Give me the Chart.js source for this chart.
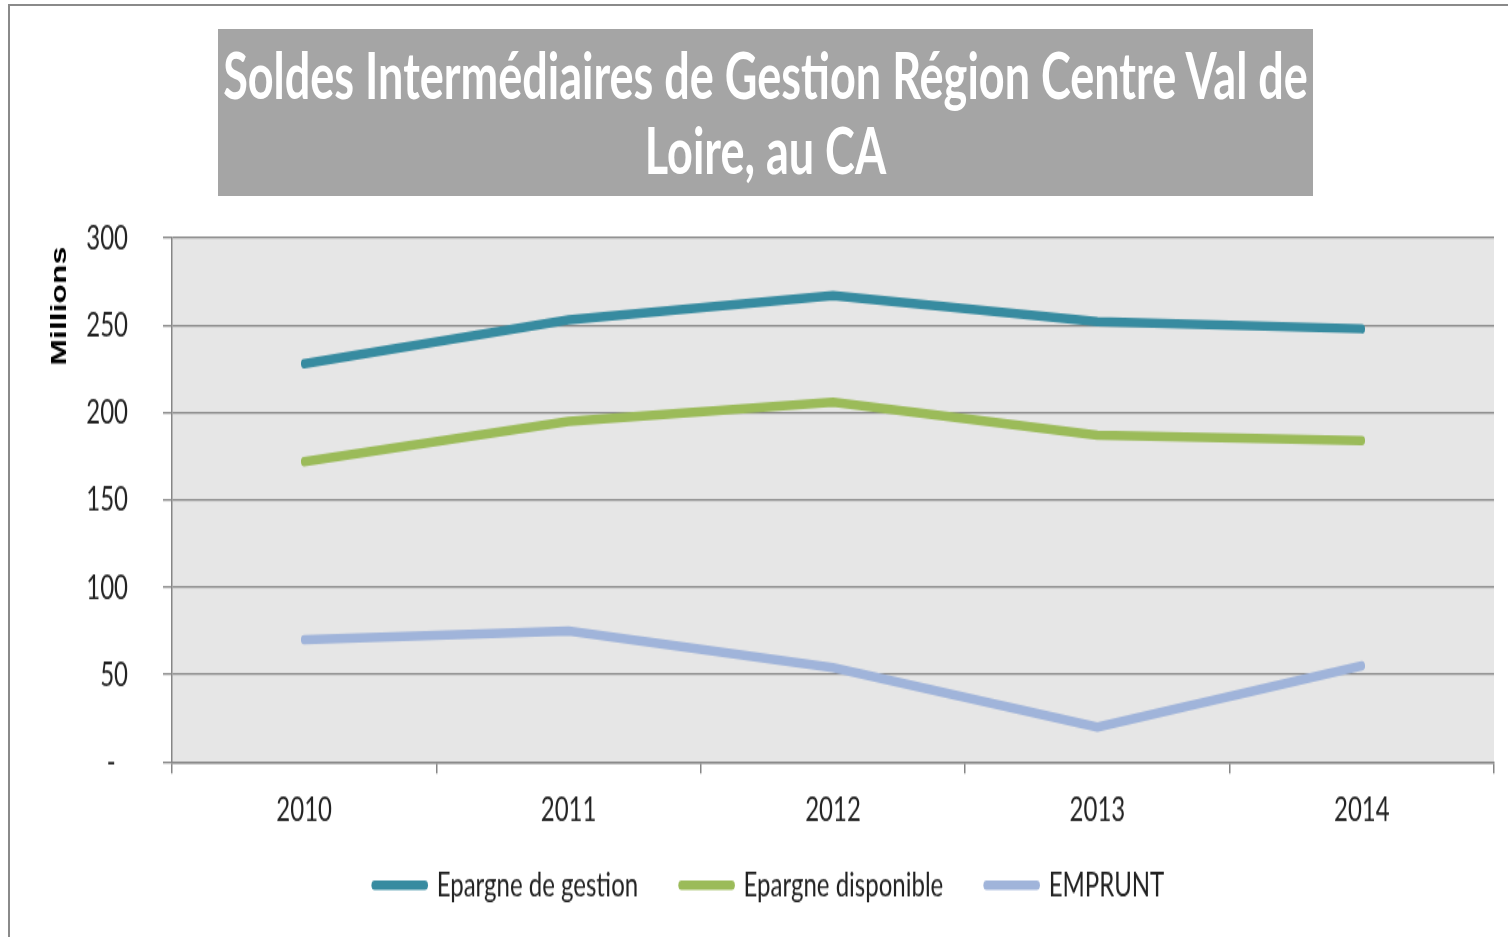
<!DOCTYPE html>
<html lang="fr">
<head>
    <meta charset="UTF-8">
    <title>Soldes Intermédiaires de Gestion Région Centre Val de Loire</title>
    <script src="https://cdn.jsdelivr.net/npm/chart.js"></script>
    <style>
        html, body {
            margin: 0;
            padding: 0;
            background: #fff;
            overflow: hidden;
        }
        .frame {
            position: absolute;
            left: 8px;
            top: 4px;
            width: 1510px;
            height: 950px;
            border-top: 2px solid #8a8a8a;
            border-left: 2px solid #8a8a8a;
        }
        /* the original picture is stretched vertically, so the whole chart is too */
        .wrap {
            position: absolute;
            left: 0;
            top: 0;
            width: 1508px;
            height: 646px;
            transform: scaleY(1.4505);
            transform-origin: 0 0;
        }
        .title-box {
            position: absolute;
            left: 218px;
            top: 20px;
            width: 1095px;
            height: 115px;
            box-sizing: border-box;
            padding-top: 5px;
            background: #a5a5a5;
            color: #fff;
            font-family: Lato, "Open Sans", sans-serif;
            font-weight: 700;
            font-size: 45px;
            line-height: 52px;
            text-align: center;
            white-space: nowrap;
        }
    </style>
</head>
<body>
    <div class="frame"></div>
    <div class="wrap">
        <canvas id="sigChart"></canvas>
        <div class="title-box">Soldes Intermédiaires de Gestion Région Centre Val de<br>Loire, au CA</div>
    </div>

    <script>
        // données (millions d'euros)
        const years = ['2010', '2011', '2012', '2013', '2014'];
        const epargneGestion = [228, 253, 267, 252, 248];
        const epargneDisponible = [172, 195, 206, 187, 184];
        const emprunt = [70, 75, 54, 20, 55];
        const yTicks = [0, 50, 100, 150, 200, 250, 300];

        const tickColor = '#222';
        const lineGrey = '#868686';

        // fond gris de la zone de tracé
        const plotBackground = {
            id: 'plotBackground',
            beforeDraw(chart) {
                const { ctx, chartArea: a } = chart;
                ctx.save();
                ctx.fillStyle = '#e6e6e6';
                ctx.fillRect(a.left, a.top, a.right - a.left, a.bottom - a.top);
                ctx.restore();
            }
        };

        function serie(label, data, color) {
            return {
                label: label,
                data: data,
                borderColor: color,
                backgroundColor: color,
                borderWidth: 6.5,
                borderCapStyle: 'round',
                borderJoinStyle: 'round',
                pointRadius: 0,
                pointHoverRadius: 0,
                tension: 0
            };
        }

        Chart.defaults.font.family = 'Lato, "Open Sans", sans-serif';
        const defaultLabels = Chart.defaults.plugins.legend.labels.generateLabels;

        new Chart(document.getElementById('sigChart'), {
            type: 'line',
            data: {
                labels: years,
                datasets: [
                    serie('Epargne de gestion', epargneGestion, '#378ba0'),
                    serie('Epargne disponible', epargneDisponible, '#9bbb59'),
                    serie('EMPRUNT', emprunt, '#a0b4da')
                ]
            },
            options: {
                responsive: true,
                maintainAspectRatio: false,
                animation: false,
                layout: {
                    padding: { top: 164, left: 45, right: 14, bottom: 13.7 }
                },
                scales: {
                    x: {
                        offset: true,
                        grid: {
                            offset: true,
                            drawOnChartArea: false,
                            drawTicks: true,
                            tickLength: 8,
                            color: lineGrey,
                            lineWidth: 1.5
                        },
                        border: { display: true, color: lineGrey, width: 1.4 },
                        ticks: {
                            color: tickColor,
                            font: { size: 24 },
                            padding: 11,
                            maxRotation: 0
                        },
                        afterFit(scale) {
                            scale.height = 48;
                            scale.paddingLeft = 0;
                            scale.paddingRight = 0;
                        }
                    },
                    y: {
                        min: 0,
                        max: 300,
                        afterBuildTicks(scale) {
                            scale.ticks = yTicks.map(v => ({ value: v }));
                        },
                        grid: {
                            color: lineGrey,
                            lineWidth: 1.3,
                            drawTicks: true,
                            tickLength: 9
                        },
                        border: { display: true, color: lineGrey, width: 1.5 },
                        ticks: {
                            color: tickColor,
                            font: { size: 24 },
                            padding: 35,
                            callback: v => (v === 0 ? '-  ' : v)
                        },
                        title: {
                            display: true,
                            text: 'Millions ',
                            align: 'end',
                            color: '#000',
                            font: { family: '"Liberation Sans", Arial, sans-serif', size: 22, weight: 'bold' },
                            padding: { top: 2, bottom: 0 }
                        },
                        afterFit(scale) {
                            scale.width = 127;
                            scale.paddingTop = 0;
                            scale.paddingBottom = 0;
                        }
                    }
                },
                plugins: {
                    title: { display: false },
                    tooltip: { enabled: false },
                    legend: {
                        position: 'bottom',
                        align: 'center',
                        labels: {
                            usePointStyle: true,
                            pointStyle: 'line',
                            pointStyleWidth: 50,
                            padding: 25,
                            color: tickColor,
                            font: { size: 24 },
                            generateLabels(chart) {
                                const items = defaultLabels(chart);
                                items.forEach((item, i) => {
                                    item.lineCap = 'round';
                                    if (i < items.length - 1) item.text += '   ';
                                });
                                return items;
                            }
                        }
                    }
                }
            },
            plugins: [plotBackground]
        });
    </script>
</body>
</html>
